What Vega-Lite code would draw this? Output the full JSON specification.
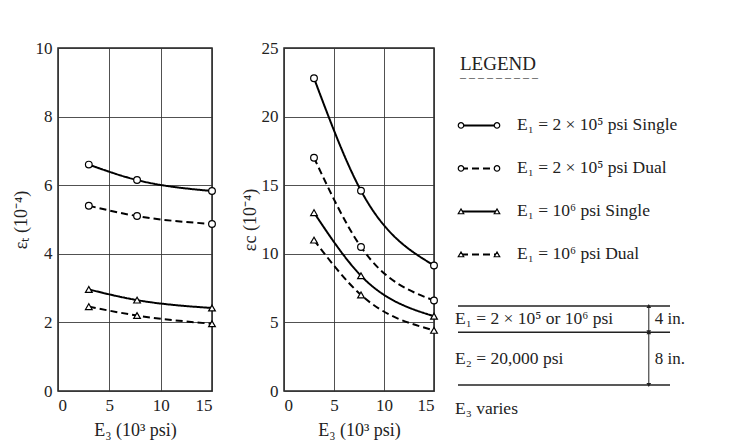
{
  "$schema": "https://vega.github.io/schema/vega-lite/v6.json",
  "background": "white",
  "padding": {"left": 11, "top": 38, "right": 0, "bottom": 0},
  "datasets": {
    "strain": [
      {"series": "E₁ = 2 × 10⁵ psi Single", "E3": 3, "et": 6.6, "ec": 22.8},
      {"series": "E₁ = 2 × 10⁵ psi Single", "E3": 7.7, "et": 6.15, "ec": 14.6},
      {"series": "E₁ = 2 × 10⁵ psi Single", "E3": 15, "et": 5.83, "ec": 9.15},
      {"series": "E₁ = 2 × 10⁵ psi Dual", "E3": 3, "et": 5.4, "ec": 17.0},
      {"series": "E₁ = 2 × 10⁵ psi Dual", "E3": 7.7, "et": 5.1, "ec": 10.5},
      {"series": "E₁ = 2 × 10⁵ psi Dual", "E3": 15, "et": 4.87, "ec": 6.6},
      {"series": "E₁ = 10⁶ psi Single", "E3": 3, "et": 2.96, "ec": 13.0},
      {"series": "E₁ = 10⁶ psi Single", "E3": 7.7, "et": 2.65, "ec": 8.4},
      {"series": "E₁ = 10⁶ psi Single", "E3": 15, "et": 2.42, "ec": 5.45},
      {"series": "E₁ = 10⁶ psi Dual", "E3": 3, "et": 2.46, "ec": 11.0},
      {"series": "E₁ = 10⁶ psi Dual", "E3": 7.7, "et": 2.2, "ec": 7.0},
      {"series": "E₁ = 10⁶ psi Dual", "E3": 15, "et": 1.96, "ec": 4.42}
    ],
    "legend": [
      {"series": "E₁ = 2 × 10⁵ psi Single", "end": "a"},
      {"series": "E₁ = 2 × 10⁵ psi Single", "end": "b"},
      {"series": "E₁ = 2 × 10⁵ psi Dual", "end": "a"},
      {"series": "E₁ = 2 × 10⁵ psi Dual", "end": "b"},
      {"series": "E₁ = 10⁶ psi Single", "end": "a"},
      {"series": "E₁ = 10⁶ psi Single", "end": "b"},
      {"series": "E₁ = 10⁶ psi Dual", "end": "a"},
      {"series": "E₁ = 10⁶ psi Dual", "end": "b"}
    ],
    "layers": [
      {"layer": "E₁ = 2 × 10⁵ or 10⁶ psi", "top": 0, "bottom": 4, "thickness": "4 in."},
      {"layer": "E₂ = 20,000 psi", "top": 4, "bottom": 12, "thickness": "8 in."},
      {"layer": "E₃ varies", "top": 12, "bottom": null, "thickness": null}
    ]
  },
  "config": {
    "font": "Liberation Serif",
    "view": {"stroke": "#222", "strokeWidth": 1.5},
    "axis": {
      "labelFont": "Liberation Serif", "labelFontSize": 17, "labelColor": "#222",
      "titleFont": "Liberation Serif", "titleFontSize": 18, "titleFontWeight": "normal", "titleColor": "#222",
      "gridColor": "#333", "gridWidth": 1, "gridOpacity": 0.85,
      "ticks": false, "domain": false, "labelPadding": 6
    }
  },
  "spacing": 14,
  "hconcat": [
    {
      "spacing": 21,
      "hconcat": [
        {
          "width": 154, "height": 343,
          "data": {"name": "strain"},
          "encoding": {
            "x": {"field": "E3", "type": "quantitative", "scale": {"domain": [0, 15], "nice": false},
                  "axis": {"values": [0, 5, 10, 15], "title": "E₃ (10³ psi)", "titlePadding": 8}},
            "y": {"field": "et", "type": "quantitative", "scale": {"domain": [0, 10], "nice": false},
                  "axis": {"values": [0, 2, 4, 6, 8, 10], "title": "εₜ (10⁻⁴)", "titlePadding": 5}},
            "detail": {"field": "series", "type": "nominal"}
          },
          "layer": [
            {
              "mark": {"type": "line", "interpolate": "monotone", "color": "black", "strokeWidth": 2},
              "encoding": {"strokeDash": {"field": "series", "type": "nominal",
                "scale": {"domain": ["E₁ = 2 × 10⁵ psi Single", "E₁ = 2 × 10⁵ psi Dual", "E₁ = 10⁶ psi Single", "E₁ = 10⁶ psi Dual"],
                          "range": [[1, 0], [7, 4], [1, 0], [7, 4]]}, "legend": null}}
            },
            {
              "mark": {"type": "point", "filled": true, "fill": "white", "stroke": "black", "strokeWidth": 1.2, "size": 45, "opacity": 1},
              "encoding": {"shape": {"field": "series", "type": "nominal",
                "scale": {"domain": ["E₁ = 2 × 10⁵ psi Single", "E₁ = 2 × 10⁵ psi Dual", "E₁ = 10⁶ psi Single", "E₁ = 10⁶ psi Dual"],
                          "range": ["circle", "circle", "triangle-up", "triangle-up"]}, "legend": null}}
            }
          ]
        },
        {
          "width": 150, "height": 343,
          "data": {"name": "strain"},
          "encoding": {
            "x": {"field": "E3", "type": "quantitative", "scale": {"domain": [0, 15], "nice": false},
                  "axis": {"values": [0, 5, 10, 15], "title": "E₃ (10³ psi)", "titlePadding": 8}},
            "y": {"field": "ec", "type": "quantitative", "scale": {"domain": [0, 25], "nice": false},
                  "axis": {"values": [0, 5, 10, 15, 20, 25], "title": "εc (10⁻⁴)", "titlePadding": 2}},
            "detail": {"field": "series", "type": "nominal"}
          },
          "layer": [
            {
              "mark": {"type": "line", "interpolate": "monotone", "color": "black", "strokeWidth": 2},
              "encoding": {"strokeDash": {"field": "series", "type": "nominal",
                "scale": {"domain": ["E₁ = 2 × 10⁵ psi Single", "E₁ = 2 × 10⁵ psi Dual", "E₁ = 10⁶ psi Single", "E₁ = 10⁶ psi Dual"],
                          "range": [[1, 0], [7, 4], [1, 0], [7, 4]]}, "legend": null}}
            },
            {
              "mark": {"type": "point", "filled": true, "fill": "white", "stroke": "black", "strokeWidth": 1.2, "size": 45, "opacity": 1},
              "encoding": {"shape": {"field": "series", "type": "nominal",
                "scale": {"domain": ["E₁ = 2 × 10⁵ psi Single", "E₁ = 2 × 10⁵ psi Dual", "E₁ = 10⁶ psi Single", "E₁ = 10⁶ psi Dual"],
                          "range": ["circle", "circle", "triangle-up", "triangle-up"]}, "legend": null}}
            }
          ]
        }
      ]
    },
    {
      "spacing": 40,
      "vconcat": [
        {
          "width": 212, "height": 215,
          "view": {"stroke": null},
          "data": {"name": "legend"},
          "encoding": {
            "x": {"field": "end", "type": "ordinal", "scale": {"type": "point", "padding": 0, "domain": ["a", "b"], "range": [3, 39]}, "axis": null},
            "y": {"field": "series", "type": "ordinal", "scale": {"type": "point", "padding": 1, "align": 0.9,
                  "domain": ["E₁ = 2 × 10⁵ psi Single", "E₁ = 2 × 10⁵ psi Dual", "E₁ = 10⁶ psi Single", "E₁ = 10⁶ psi Dual"]}, "axis": null}
          },
          "layer": [
            {
              "mark": {"type": "line", "color": "black", "strokeWidth": 2},
              "encoding": {"strokeDash": {"field": "series", "type": "nominal",
                "scale": {"domain": ["E₁ = 2 × 10⁵ psi Single", "E₁ = 2 × 10⁵ psi Dual", "E₁ = 10⁶ psi Single", "E₁ = 10⁶ psi Dual"],
                          "range": [[1, 0], [6, 4], [1, 0], [6, 4]]}, "legend": null}}
            },
            {
              "mark": {"type": "point", "filled": true, "fill": "white", "stroke": "black", "strokeWidth": 1.2, "size": 30, "opacity": 1},
              "encoding": {"shape": {"field": "series", "type": "nominal",
                "scale": {"domain": ["E₁ = 2 × 10⁵ psi Single", "E₁ = 2 × 10⁵ psi Dual", "E₁ = 10⁶ psi Single", "E₁ = 10⁶ psi Dual"],
                          "range": ["circle", "circle", "triangle-up", "triangle-up"]}, "legend": null}}
            },
            {
              "transform": [{"filter": "datum.end === 'b'"}],
              "mark": {"type": "text", "align": "left", "baseline": "middle", "dx": 20, "fontSize": 17.5, "color": "#222"},
              "encoding": {"text": {"field": "series"}}
            },
            {
              "transform": [{"filter": "datum.end === 'a' && datum.series === 'E₁ = 2 × 10⁵ psi Single'"}],
              "mark": {"type": "text", "align": "left", "baseline": "middle", "dx": -1, "dy": -61, "fontSize": 19, "color": "#222"},
              "encoding": {"text": {"value": "LEGEND"}}
            },
            {
              "transform": [{"filter": "datum.end === 'a' && datum.series === 'E₁ = 2 × 10⁵ psi Single'"}],
              "mark": {"type": "text", "align": "left", "baseline": "middle", "dx": -1, "dy": -52, "fontSize": 12, "color": "#444"},
              "encoding": {"text": {"value": "_ _ _ _ _ _ _ _ _"}}
            }
          ]
        },
        {
          "width": 212, "height": 79,
          "view": {"stroke": null},
          "data": {"name": "layers"},
          "encoding": {
            "y": {"field": "top", "type": "quantitative", "scale": {"domain": [0, 12], "reverse": true, "nice": false}, "axis": null}
          },
          "layer": [
            {
              "mark": {"type": "rule", "color": "#222", "strokeWidth": 1.5},
              "encoding": {}
            },
            {
              "transform": [{"filter": "isValid(datum.bottom)"}],
              "mark": {"type": "rule", "color": "#222", "strokeWidth": 1},
              "encoding": {
                "x": {"datum": 0.9, "type": "quantitative", "scale": {"domain": [0, 1]}, "axis": null},
                "y2": {"field": "bottom"}
              }
            },
            {
              "transform": [{"filter": "isValid(datum.bottom)"}],
              "mark": {"type": "point", "shape": "triangle-up", "filled": true, "color": "#222", "size": 22, "dy": 4, "opacity": 1},
              "encoding": {
                "x": {"datum": 0.9, "type": "quantitative"}
              }
            },
            {
              "transform": [{"filter": "isValid(datum.bottom)"}],
              "mark": {"type": "point", "shape": "triangle-down", "filled": true, "color": "#222", "size": 22, "dy": -4, "opacity": 1},
              "encoding": {
                "x": {"datum": 0.9, "type": "quantitative"},
                "y": {"field": "bottom", "type": "quantitative"}
              }
            },
            {
              "transform": [{"filter": "isValid(datum.bottom)"}, {"calculate": "(datum.top + datum.bottom) / 2", "as": "mid"}],
              "mark": {"type": "text", "align": "left", "baseline": "middle", "fontSize": 17.5, "color": "#222", "dx": -3},
              "encoding": {
                "x": {"datum": 0, "type": "quantitative"},
                "y": {"field": "mid", "type": "quantitative"},
                "text": {"field": "layer"}
              }
            },
            {
              "transform": [{"filter": "isValid(datum.bottom)"}, {"calculate": "(datum.top + datum.bottom) / 2", "as": "mid"}],
              "mark": {"type": "text", "align": "left", "baseline": "middle", "fontSize": 17, "color": "#222", "dx": 6},
              "encoding": {
                "x": {"datum": 0.9, "type": "quantitative"},
                "y": {"field": "mid", "type": "quantitative"},
                "text": {"field": "thickness"}
              }
            },
            {
              "transform": [{"filter": "!isValid(datum.bottom)"}],
              "mark": {"type": "text", "align": "left", "baseline": "middle", "fontSize": 17.5, "color": "#222", "dx": -3, "dy": 24},
              "encoding": {
                "x": {"datum": 0, "type": "quantitative"},
                "text": {"field": "layer"}
              }
            }
          ]
        }
      ]
    }
  ]
}
